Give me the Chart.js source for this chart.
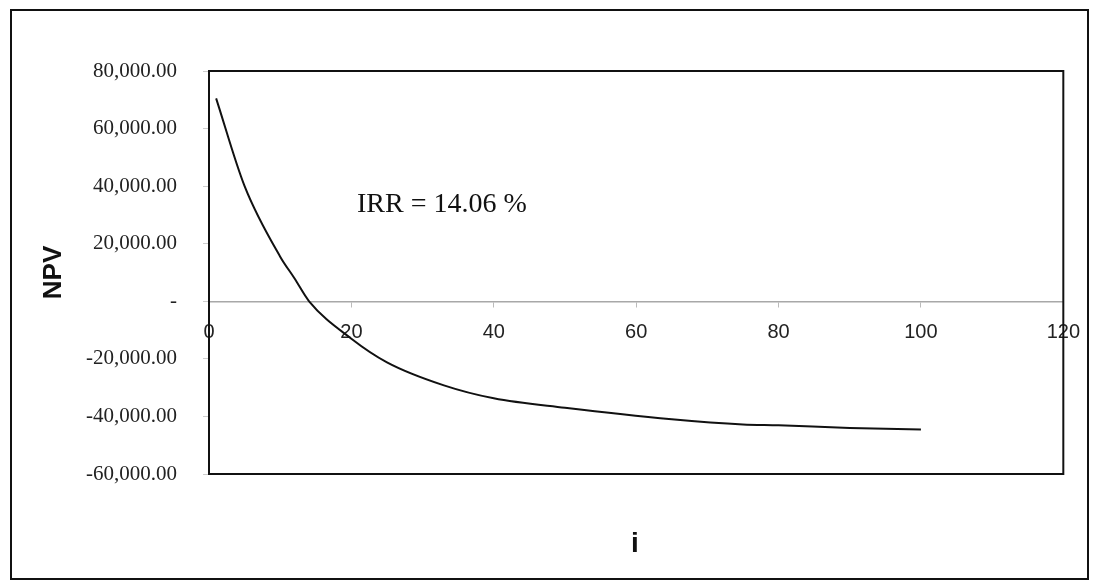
<!DOCTYPE html>
<html>
<head>
<meta charset="utf-8">
<script src="https://cdn.jsdelivr.net/npm/chart.js@4/dist/chart.umd.min.js"></script>
<style>
  html, body { margin: 0; padding: 0; background: #ffffff; }
  #wrap { width: 1094px; height: 586px; position: relative; }
</style>
</head>
<body>
<div id="wrap"><canvas id="c" width="1094" height="586"></canvas></div>
<script>
// ---- data ----
const rateValues = [1, 5, 10, 12, 14.06, 20, 25, 33, 40, 50, 65, 75, 80, 90, 100];
const npvValues = [70500, 40000, 15500, 8000, 0, -13000, -21200, -29200, -33700, -37000, -41000, -42800, -43100, -44000, -44500];
const yTickValues = [-60000, -40000, -20000, 0, 20000, 40000, 60000, 80000];
const yTickLabels = ['-60,000.00', '-40,000.00', '-20,000.00', '-', '20,000.00', '40,000.00', '60,000.00', '80,000.00'];
const xTickValues = [0, 20, 40, 60, 80, 100, 120];
const xTickLabels = ['0', '20', '40', '60', '80', '100', '120'];
const yAxisTitle = 'NPV';
const xAxisTitle = 'i';
const noteText = 'IRR = 14.06 %';

const points = rateValues.map((x, k) => ({ x: x, y: npvValues[k] }));

const framePlugin = {
  id: 'frame',
  beforeDatasetsDraw(chart) {
    const ctx = chart.ctx, a = chart.chartArea;
    ctx.save();
    ctx.strokeStyle = '#111';
    ctx.lineWidth = 2;
    ctx.strokeRect(a.left, a.top, a.right - a.left, a.bottom - a.top);
    // outer chart border
    ctx.strokeRect(11, 10, 1077, 569);
    ctx.restore();
  },
  afterDraw(chart) {
    const ctx = chart.ctx;
    ctx.save();
    ctx.fillStyle = '#111';
    ctx.font = '28px "Liberation Serif", "Times New Roman", serif';
    ctx.textBaseline = 'alphabetic';
    ctx.textAlign = 'left';
    ctx.fillText(noteText, 357, 212);
    ctx.font = 'bold 28px "Liberation Sans", Arial, sans-serif';
    ctx.textAlign = 'center';
    ctx.fillText(xAxisTitle, 635, 552);
    ctx.restore();
  }
};

new Chart(document.getElementById('c'), {
  type: 'line',
  data: {
    datasets: [{
      data: points,
      borderColor: '#111',
      borderWidth: 2,
      pointRadius: 0,
      cubicInterpolationMode: 'monotone',
      fill: false
    }]
  },
  options: {
    responsive: false,
    animation: false,
    events: [],
    layout: { padding: { left: 38, top: 71, right: 29, bottom: 112 } },
    plugins: { legend: { display: false }, tooltip: { enabled: false } },
    scales: {
      x: {
        type: 'linear',
        position: { y: 0 },
        min: 0, max: 120,
        afterBuildTicks(scale) { scale.ticks = xTickValues.map(v => ({ value: v })); },
        ticks: {
          callback: (v) => { const k = xTickValues.indexOf(v); return k >= 0 ? xTickLabels[k] : ''; },
          color: '#222',
          font: { family: '"Liberation Sans", Arial, sans-serif', size: 20 },
          padding: 14,
          maxRotation: 0
        },
        grid: { drawOnChartArea: false, color: '#bbb', tickLength: 5 },
        border: { display: true, color: '#a8a8a8', width: 1.5 }
      },
      y: {
        type: 'linear',
        min: -60000, max: 80000,
        afterBuildTicks(scale) { scale.ticks = yTickValues.map(v => ({ value: v })); },
        afterFit(scale) { scale.width = 171; },
        ticks: {
          callback: (v) => { const k = yTickValues.indexOf(v); return k >= 0 ? yTickLabels[k] : ''; },
          color: '#222',
          font: { family: '"Liberation Serif", "Times New Roman", serif', size: 21 },
          padding: 26
        },
        grid: { drawOnChartArea: false, color: '#ccc', tickLength: 6 },
        border: { display: false },
        title: {
          display: true,
          text: yAxisTitle,
          color: '#111',
          font: { family: '"Liberation Sans", Arial, sans-serif', size: 26, weight: 'bold' },
          padding: 0
        }
      }
    }
  },
  plugins: [framePlugin]
});
</script>
</body>
</html>
